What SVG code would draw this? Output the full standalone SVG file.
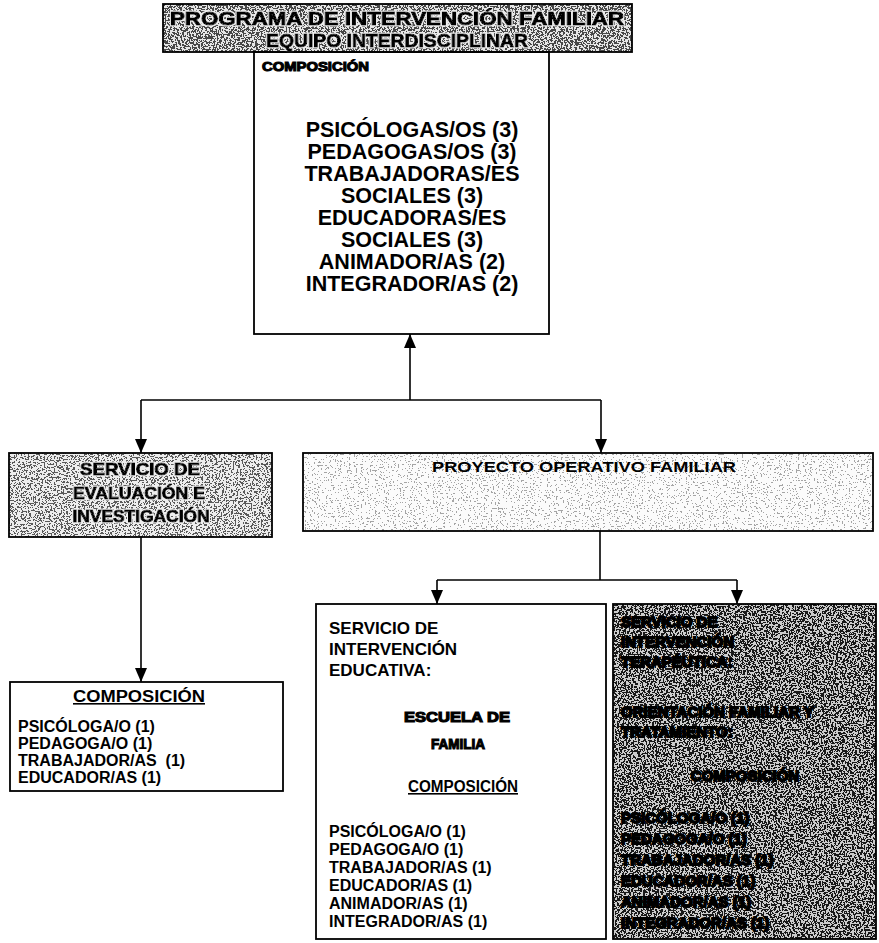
<svg xmlns="http://www.w3.org/2000/svg" width="879" height="943" viewBox="0 0 879 943">
  <defs>
    <style>
      text { font-family: "Liberation Sans", Arial, Helvetica, sans-serif; fill: #000; }
      .frame { fill: none; stroke: #000; stroke-width: 1.8; }
      .heavy { font-weight: 700; stroke: #000; stroke-width: 1.1; }
      .blot { font-weight: 700; stroke: #000; stroke-width: 1.8; }
      .bold { font-weight: 700; }
      .mid { text-anchor: middle; }
      .list-lg { font-size: 21.5px; font-weight: 700; text-anchor: middle; }
      .list { font-size: 16px; font-weight: 700; }
      .wire { fill: none; stroke: #000; stroke-width: 1.6; }
      .ul { text-decoration: underline; }
    </style>
    <marker id="arrowhead" viewBox="0 0 14 12" refX="14" refY="6" markerWidth="14" markerHeight="12" markerUnits="userSpaceOnUse" orient="auto">
      <path d="M0,0 L14,6 L0,12 Z" fill="#000"/>
    </marker>
    <!-- speckled screen tones: thresholded noise, two grey levels each -->
    <filter id="grain-title" x="0" y="0" width="100%" height="100%" color-interpolation-filters="sRGB">
      <feTurbulence type="fractalNoise" baseFrequency="0.57 0.61" numOctaves="3" seed="3"/>
      <feColorMatrix type="matrix" values="1 0 0 0 0  1 0 0 0 0  1 0 0 0 0  0 0 0 0 1"/>
      <feComponentTransfer>
        <feFuncR type="discrete" tableValues="0.28 0.28 0.28 0.28 0.28 0.28 0.28 0.28 0.28 0.28 0.9 0.9 0.9 0.9 0.9 0.9 0.9 0.9 0.9 0.9"/>
        <feFuncG type="discrete" tableValues="0.28 0.28 0.28 0.28 0.28 0.28 0.28 0.28 0.28 0.28 0.9 0.9 0.9 0.9 0.9 0.9 0.9 0.9 0.9 0.9"/>
        <feFuncB type="discrete" tableValues="0.28 0.28 0.28 0.28 0.28 0.28 0.28 0.28 0.28 0.28 0.9 0.9 0.9 0.9 0.9 0.9 0.9 0.9 0.9 0.9"/>
      </feComponentTransfer>
      <feComposite operator="in" in2="SourceGraphic"/>
    </filter>
    <filter id="grain-eval" x="0" y="0" width="100%" height="100%" color-interpolation-filters="sRGB">
      <feTurbulence type="fractalNoise" baseFrequency="0.57 0.61" numOctaves="3" seed="11"/>
      <feColorMatrix type="matrix" values="1 0 0 0 0  1 0 0 0 0  1 0 0 0 0  0 0 0 0 1"/>
      <feComponentTransfer>
        <feFuncR type="discrete" tableValues="0.35 0.35 0.35 0.35 0.35 0.35 0.35 0.35 0.35 0.93 0.93 0.93 0.93 0.93 0.93 0.93 0.93 0.93 0.93 0.93"/>
        <feFuncG type="discrete" tableValues="0.35 0.35 0.35 0.35 0.35 0.35 0.35 0.35 0.35 0.93 0.93 0.93 0.93 0.93 0.93 0.93 0.93 0.93 0.93 0.93"/>
        <feFuncB type="discrete" tableValues="0.35 0.35 0.35 0.35 0.35 0.35 0.35 0.35 0.35 0.93 0.93 0.93 0.93 0.93 0.93 0.93 0.93 0.93 0.93 0.93"/>
      </feComponentTransfer>
      <feComposite operator="in" in2="SourceGraphic"/>
    </filter>
    <filter id="grain-light" x="0" y="0" width="100%" height="100%" color-interpolation-filters="sRGB">
      <feTurbulence type="fractalNoise" baseFrequency="0.57 0.61" numOctaves="3" seed="23"/>
      <feColorMatrix type="matrix" values="1 0 0 0 0  1 0 0 0 0  1 0 0 0 0  0 0 0 0 1"/>
      <feComponentTransfer>
        <feFuncR type="discrete" tableValues="0.65 0.65 0.65 0.65 0.65 0.65 0.65 0.985 0.985 0.985 0.985 0.985 0.985 0.985 0.985 0.985 0.985 0.985 0.985 0.985"/>
        <feFuncG type="discrete" tableValues="0.65 0.65 0.65 0.65 0.65 0.65 0.65 0.985 0.985 0.985 0.985 0.985 0.985 0.985 0.985 0.985 0.985 0.985 0.985 0.985"/>
        <feFuncB type="discrete" tableValues="0.65 0.65 0.65 0.65 0.65 0.65 0.65 0.985 0.985 0.985 0.985 0.985 0.985 0.985 0.985 0.985 0.985 0.985 0.985 0.985"/>
      </feComponentTransfer>
      <feComposite operator="in" in2="SourceGraphic"/>
    </filter>
    <filter id="grain-dark" x="0" y="0" width="100%" height="100%" color-interpolation-filters="sRGB">
      <feTurbulence type="fractalNoise" baseFrequency="0.57 0.61" numOctaves="3" seed="41"/>
      <feColorMatrix type="matrix" values="1 0 0 0 0  1 0 0 0 0  1 0 0 0 0  0 0 0 0 1"/>
      <feComponentTransfer>
        <feFuncR type="discrete" tableValues="0.1 0.1 0.1 0.1 0.1 0.1 0.1 0.1 0.1 0.1 0.8 0.8 0.8 0.8 0.8 0.8 0.8 0.8 0.8 0.8"/>
        <feFuncG type="discrete" tableValues="0.1 0.1 0.1 0.1 0.1 0.1 0.1 0.1 0.1 0.1 0.8 0.8 0.8 0.8 0.8 0.8 0.8 0.8 0.8 0.8"/>
        <feFuncB type="discrete" tableValues="0.1 0.1 0.1 0.1 0.1 0.1 0.1 0.1 0.1 0.1 0.8 0.8 0.8 0.8 0.8 0.8 0.8 0.8 0.8 0.8"/>
      </feComponentTransfer>
      <feComposite operator="in" in2="SourceGraphic"/>
    </filter>
    <!-- light outline around lettering on screened panels -->
    <filter id="halo" x="-5%" y="-30%" width="110%" height="160%">
      <feMorphology in="SourceAlpha" operator="dilate" radius="1.3" result="grow"/>
      <feFlood flood-color="#f0f0f0"/>
      <feComposite in2="grow" operator="in" result="ring"/>
      <feMerge><feMergeNode in="ring"/><feMergeNode in="SourceGraphic"/></feMerge>
    </filter>
  </defs>

  <rect width="879" height="943" fill="#fff"/>

  <g id="programa">
    <rect x="163" y="4" width="469" height="48" fill="#888" filter="url(#grain-title)"/>
    <rect class="frame" x="163" y="4" width="469" height="48"/>
    <g filter="url(#halo)">
      <text class="heavy mid" x="397" y="25" font-size="19" textLength="454" lengthAdjust="spacingAndGlyphs">PROGRAMA DE INTERVENCIÓN FAMILIAR</text>
      <text class="heavy mid" x="397" y="47" font-size="19" textLength="262" lengthAdjust="spacingAndGlyphs">EQUIPO INTERDISCIPLINAR</text>
    </g>
  </g>

  <g id="composicion-equipo">
    <rect class="frame" x="254" y="52" width="295" height="282"/>
    <text class="heavy" x="262" y="71" font-size="13.5" textLength="107" lengthAdjust="spacingAndGlyphs">COMPOSICIÓN</text>
    <text class="list-lg" x="412" y="137">PSICÓLOGAS/OS (3)</text>
    <text class="list-lg" x="412" y="159">PEDAGOGAS/OS (3)</text>
    <text class="list-lg" x="412" y="181">TRABAJADORAS/ES</text>
    <text class="list-lg" x="412" y="203">SOCIALES (3)</text>
    <text class="list-lg" x="412" y="225">EDUCADORAS/ES</text>
    <text class="list-lg" x="412" y="247">SOCIALES (3)</text>
    <text class="list-lg" x="412" y="269">ANIMADOR/AS (2)</text>
    <text class="list-lg" x="412" y="291">INTEGRADOR/AS (2)</text>
  </g>

  <g id="servicio-evaluacion">
    <rect x="9" y="453" width="263" height="84" fill="#999" filter="url(#grain-eval)"/>
    <rect class="frame" x="9" y="453" width="263" height="84"/>
    <g filter="url(#halo)">
      <text class="heavy mid" x="140" y="475" font-size="17" textLength="120" lengthAdjust="spacingAndGlyphs">SERVICIO DE</text>
      <text class="heavy mid" x="139" y="499" font-size="17" textLength="132" lengthAdjust="spacingAndGlyphs">EVALUACIÓN E</text>
      <text class="heavy mid" x="141" y="522" font-size="17" textLength="137" lengthAdjust="spacingAndGlyphs">INVESTIGACIÓN</text>
    </g>
  </g>

  <g id="proyecto-operativo">
    <rect x="303" y="453" width="570" height="78" fill="#eee" filter="url(#grain-light)"/>
    <rect class="frame" x="303" y="453" width="570" height="78"/>
    <text class="bold mid" x="584" y="472" font-size="15.5" textLength="304" lengthAdjust="spacingAndGlyphs">PROYECTO OPERATIVO FAMILIAR</text>
  </g>

  <g id="composicion-evaluacion">
    <rect class="frame" x="10" y="682" width="273" height="109"/>
    <text class="bold mid ul" x="139" y="702" font-size="16" textLength="132" lengthAdjust="spacingAndGlyphs">COMPOSICIÓN</text>
    <text class="list" x="18" y="732">PSICÓLOGA/O (1)</text>
    <text class="list" x="18" y="749">PEDAGOGA/O (1)</text>
    <text class="list" x="18" y="766" xml:space="preserve">TRABAJADOR/AS  (1)</text>
    <text class="list" x="18" y="783">EDUCADOR/AS (1)</text>
  </g>

  <g id="servicio-educativo">
    <rect class="frame" x="316" y="604" width="290" height="335"/>
    <text class="bold" x="329" y="634" font-size="17">SERVICIO DE</text>
    <text class="bold" x="329" y="655" font-size="17">INTERVENCIÓN</text>
    <text class="bold" x="329" y="676" font-size="17">EDUCATIVA:</text>
    <text class="heavy mid" x="457" y="722" font-size="14" textLength="106" lengthAdjust="spacingAndGlyphs">ESCUELA DE</text>
    <text class="heavy mid" x="458" y="749" font-size="14" textLength="54" lengthAdjust="spacingAndGlyphs">FAMILIA</text>
    <text class="bold mid ul" x="463" y="792" font-size="16" textLength="110" lengthAdjust="spacingAndGlyphs">COMPOSICIÓN</text>
    <text class="list" x="329" y="837">PSICÓLOGA/O (1)</text>
    <text class="list" x="329" y="855">PEDAGOGA/O (1)</text>
    <text class="list" x="329" y="873">TRABAJADOR/AS (1)</text>
    <text class="list" x="329" y="891">EDUCADOR/AS (1)</text>
    <text class="list" x="329" y="909">ANIMADOR/AS (1)</text>
    <text class="list" x="329" y="927">INTEGRADOR/AS (1)</text>
  </g>

  <g id="servicio-terapeutico">
    <rect x="613" y="604" width="263" height="335" fill="#444" filter="url(#grain-dark)"/>
    <rect class="frame" x="613" y="604" width="263" height="335"/>
    <text class="blot" x="621" y="627" font-size="15">SERVICIO DE</text>
    <text class="blot" x="621" y="647" font-size="15">INTERVENCIÓN</text>
    <text class="blot" x="621" y="667" font-size="15">TERAPÉUTICA:</text>
    <text class="blot" x="621" y="717" font-size="15">ORIENTACIÓN FAMILIAR Y</text>
    <text class="blot" x="621" y="737" font-size="15">TRATAMIENTO:</text>
    <text class="blot mid" x="745" y="781" font-size="15">COMPOSICIÓN</text>
    <text class="blot" x="621" y="823" font-size="15">PSICÓLOGA/O (1)</text>
    <text class="blot" x="621" y="844" font-size="15">PEDAGOGA/O (1)</text>
    <text class="blot" x="621" y="865" font-size="15">TRABAJADOR/AS (1)</text>
    <text class="blot" x="621" y="886" font-size="15">EDUCADOR/AS (1)</text>
    <text class="blot" x="621" y="907" font-size="15">ANIMADOR/AS (1)</text>
    <text class="blot" x="621" y="928" font-size="15">INTEGRADOR/AS (1)</text>
  </g>

  <g id="connectors">
    <path class="wire" d="M410,400 V334" marker-end="url(#arrowhead)"/>
    <path class="wire" d="M141,400 H601"/>
    <path class="wire" d="M141,400 V453" marker-end="url(#arrowhead)"/>
    <path class="wire" d="M601,400 V453" marker-end="url(#arrowhead)"/>
    <path class="wire" d="M141,537 V682" marker-end="url(#arrowhead)"/>
    <path class="wire" d="M600,531 V580"/>
    <path class="wire" d="M437,580 H737"/>
    <path class="wire" d="M437,580 V604" marker-end="url(#arrowhead)"/>
    <path class="wire" d="M737,580 V604" marker-end="url(#arrowhead)"/>
  </g>
</svg>
